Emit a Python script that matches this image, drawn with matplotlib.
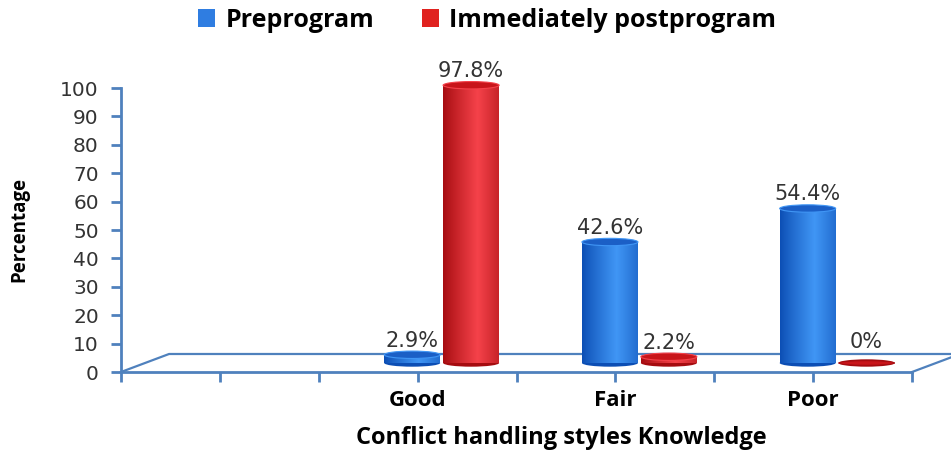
import matplotlib
matplotlib.use('Agg')
import matplotlib.pyplot as plt
import numpy as np
from matplotlib.patches import Ellipse, Patch
from matplotlib.colors import to_rgb


categories = ['', 'Good', 'Fair', 'Poor']
preprogram = [None, 2.9, 42.6, 54.4]
postprogram = [None, 97.8, 2.2, 0.0]
series_names = ['Preprogram', 'Immediately postprogram']
yticks = list(range(0, 101, 10))

AXIS = '#4f81bd'
BLUE = ('#0c4eb4', '#4096f5', '#1b5fc6')   # edge, highlight, top
RED = ('#a50c10', '#f5424a', '#c8151a')
LABEL_FONT = ['Open Sans', 'DejaVu Sans']

# pseudo-3d depth of the floor, in data units
DX = 0.243
DY = 6.34
BAR_W = 0.283
CAP_H = 2.6


def cylinder(ax, xc, value, colors):
    edge, light, top = colors
    x0 = xc - BAR_W / 2
    y0 = DY / 2
    t = np.linspace(0, 1, 200)
    # shading across the body: dark rims, bright band right of centre
    w = np.clip(1 - np.abs(t - 0.62) / 0.62, 0, 1) ** 0.9
    c0, c1 = np.array(to_rgb(edge)), np.array(to_rgb(light))
    grad = c0[None, :] * (1 - w[:, None]) + c1[None, :] * w[:, None]
    grad = grad[None, :, :]
    ax.add_patch(Ellipse((xc, y0), BAR_W, CAP_H, facecolor=edge,
                         edgecolor='none', zorder=4, clip_on=False))
    if value > 0:
        im = ax.imshow(grad, extent=[x0, x0 + BAR_W, y0, y0 + value],
                       aspect='auto', zorder=4.5, interpolation='bilinear')
        im.set_clip_on(False)
        ax.add_patch(Ellipse((xc, y0 + value), BAR_W, CAP_H, facecolor=top,
                             edgecolor=light, linewidth=0.8, zorder=5,
                             clip_on=False))
    else:
        ax.add_patch(Ellipse((xc, y0), BAR_W, CAP_H * 0.6, facecolor=top,
                             edgecolor=edge, linewidth=0.6, zorder=5,
                             clip_on=False))


fig = plt.figure(figsize=(9.51, 4.51), dpi=100)
ax = fig.add_axes([121 / 951, 79 / 451, 791 / 951, 284 / 451])
ax.set_xlim(-0.5, 3.5)
ax.set_ylim(0, 100)

for s in ['top', 'right']:
    ax.spines[s].set_visible(False)
for s in ['left', 'bottom']:
    ax.spines[s].set_color(AXIS)
    ax.spines[s].set_linewidth(2)

# floor of the plot area
ax.plot([-0.5, -0.5 + DX, 3.5 + DX], [0, DY, DY], color=AXIS, lw=1.6,
        clip_on=False, zorder=2)
ax.plot([3.5, 3.5 + DX], [0, DY], color=AXIS, lw=1.6, clip_on=False, zorder=2)

ax.set_yticks(yticks)
ax.set_yticklabels([str(v) for v in yticks], fontsize=14.5, color='#333333')
ax.set_xticks(range(len(categories)))
ax.set_xticklabels(categories, fontsize=16, fontweight='bold',
                   family=LABEL_FONT)
ax.set_xticks(np.arange(-0.5, 3.6, 1), minor=True)
ax.tick_params(axis='both', which='both', direction='out', color=AXIS,
               width=2, length=7)
ax.tick_params(axis='x', which='major', pad=6)
ax.tick_params(axis='y', which='major', pad=9)

for i in range(len(categories)):
    if preprogram[i] is None:
        continue
    base = i + DX / 2
    for j, (vals, cols) in enumerate([(preprogram, BLUE), (postprogram, RED)]):
        v = vals[i]
        xc = base + (j - 0.5) * 0.298
        cylinder(ax, xc, v, cols)
        label = f'{v:g}%'
        ax.annotate(label, (xc, DY / 2 + v), xytext=(0, 3 if v > 0 else 8),
                    textcoords='offset points', ha='center', va='bottom',
                    fontsize=15, color='#333333', zorder=6,
                    annotation_clip=False)

ax.set_ylabel('Percentage', fontsize=13.5, fontweight='bold',
              family=LABEL_FONT, labelpad=22)
ax.set_xlabel('Conflict handling styles Knowledge', fontsize=17,
              fontweight='bold', family=LABEL_FONT, va='center')
ax.xaxis.set_label_coords(0.557, -0.232)

handles = [Patch(facecolor='#2f7de1'), Patch(facecolor='#e0221f')]
fig.legend(handles, series_names, loc='center', bbox_to_anchor=(0.512, 0.955),
           ncol=2, frameon=False, handlelength=0.7, handleheight=0.7,
           columnspacing=1.9, handletextpad=0.4,
           prop={'family': LABEL_FONT, 'weight': 'bold', 'size': 18})

fig.savefig('out.png', dpi=100)
